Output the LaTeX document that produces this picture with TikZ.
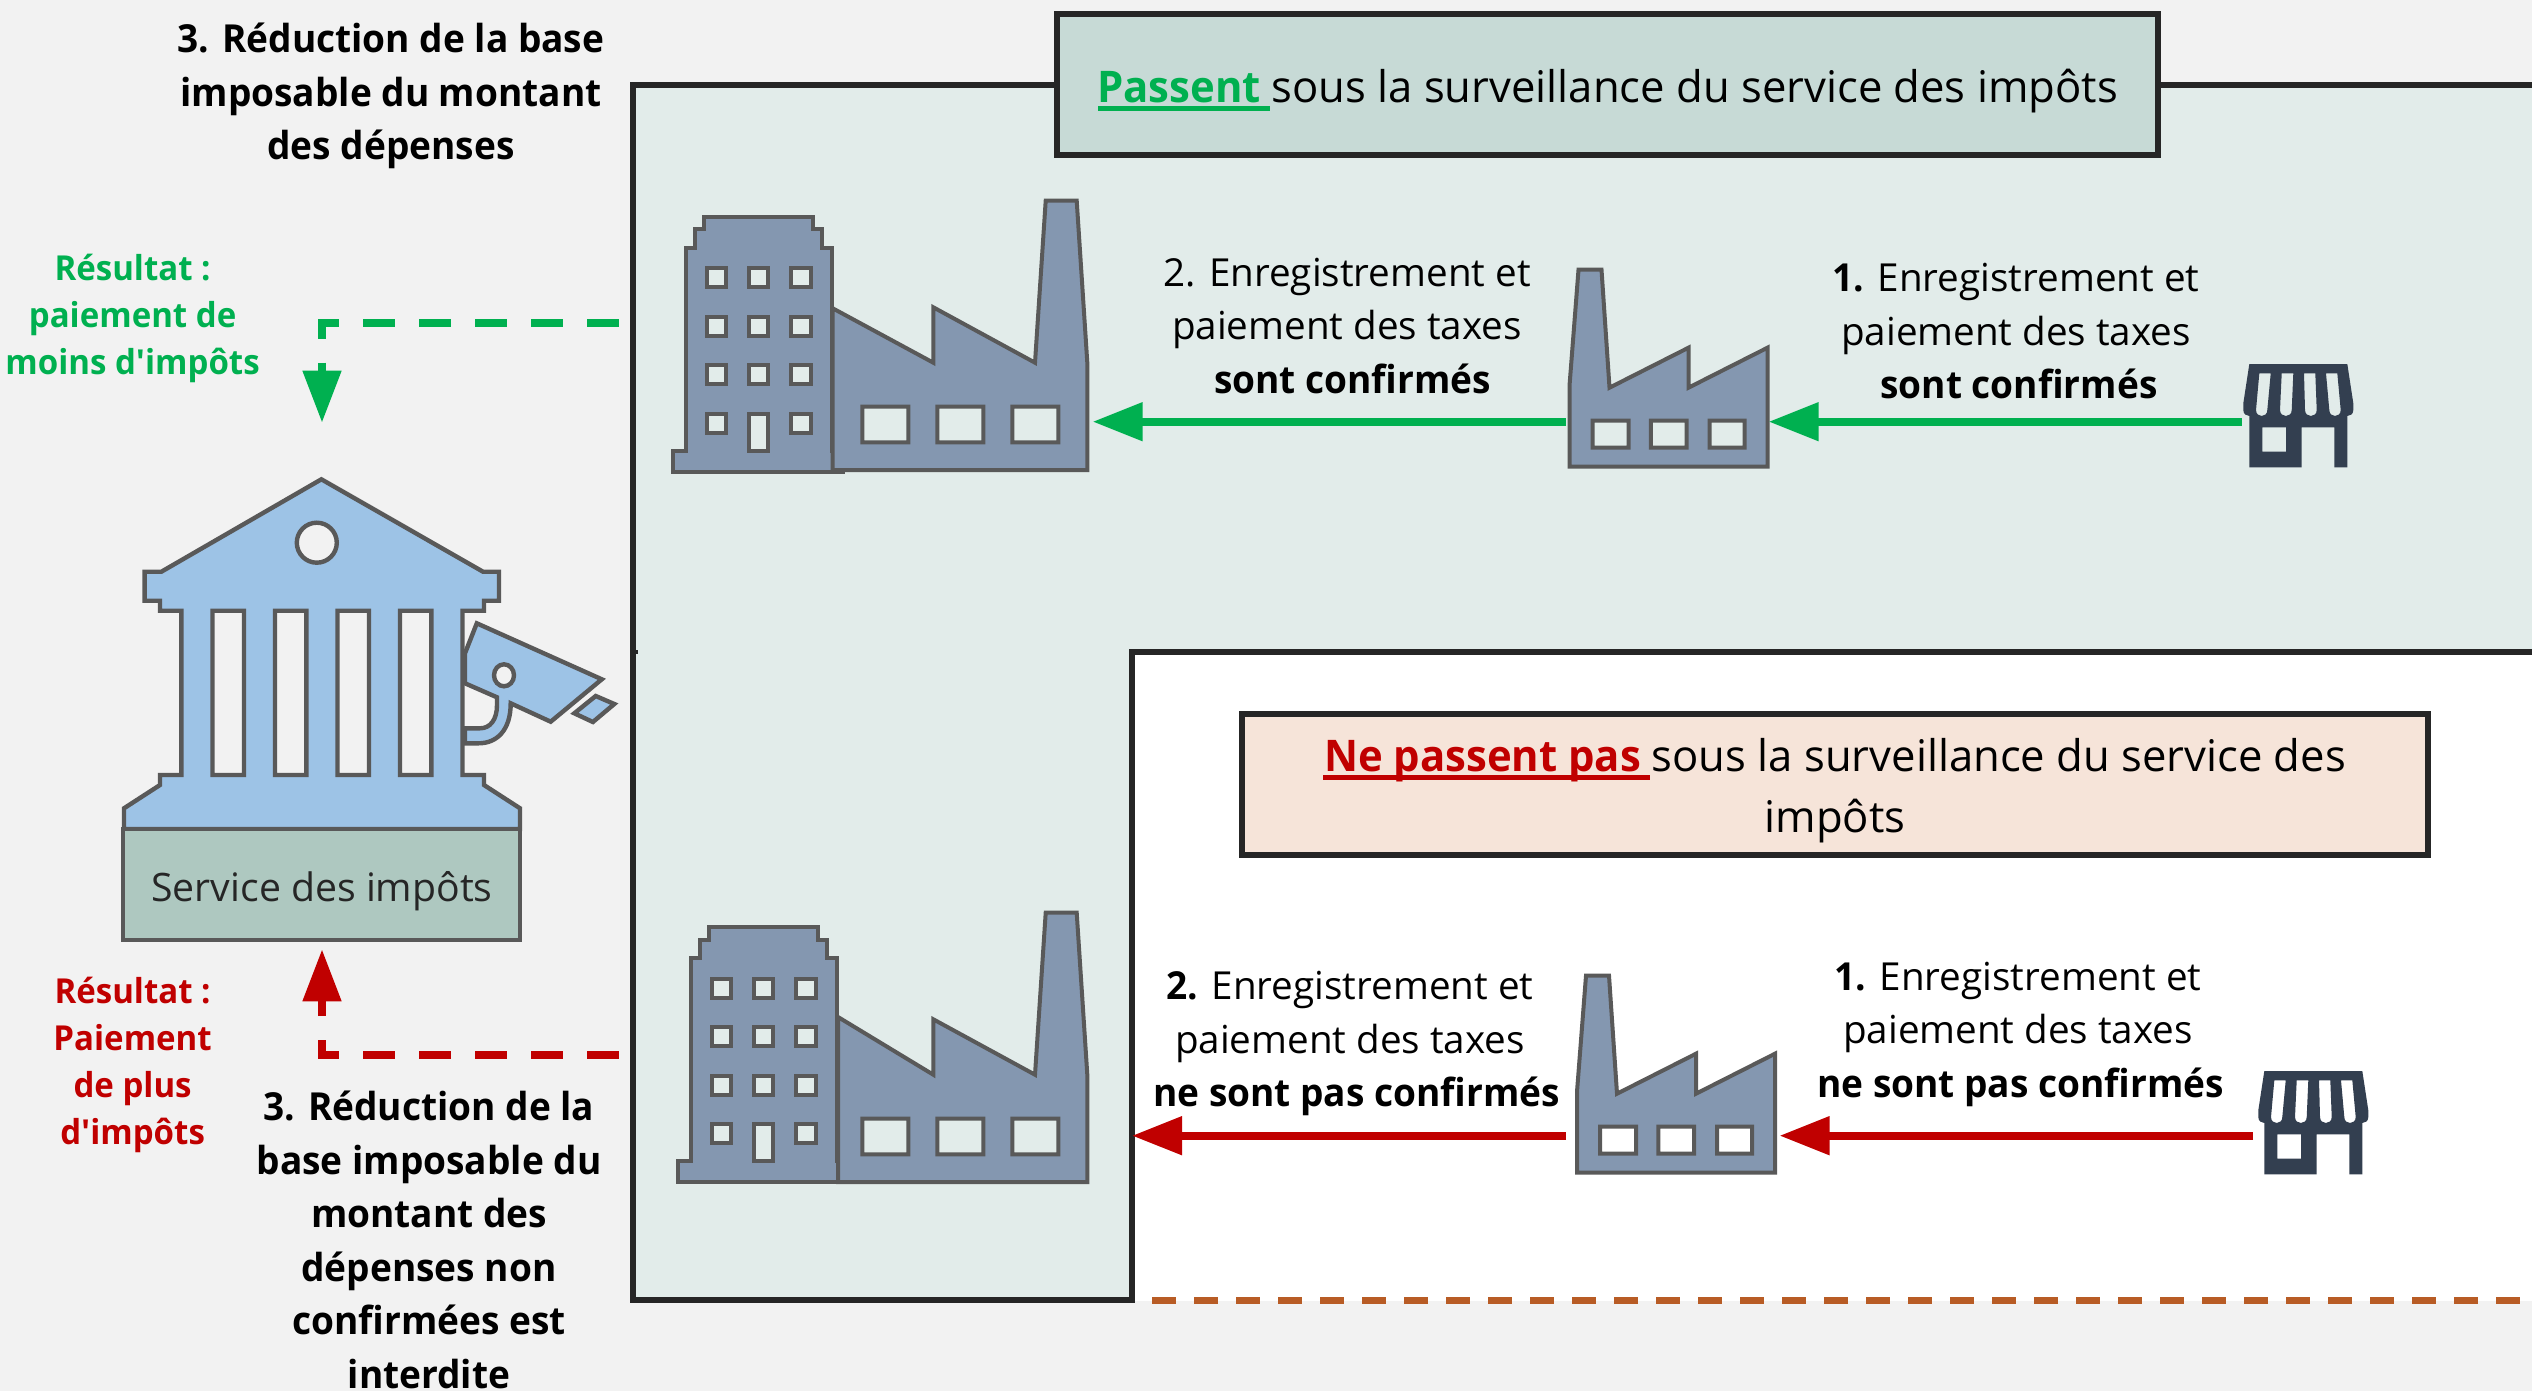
\documentclass[tikz,border=0pt]{standalone}
\usepackage{fontspec}
\setmainfont{Open Sans}[BoldFeatures={FakeStretch=0.96}]
\usetikzlibrary{arrows.meta}
\definecolor{bgc}{HTML}{F2F2F2}
\definecolor{panelc}{HTML}{E2ECEA}
\definecolor{framec}{HTML}{262626}
\definecolor{iconc}{HTML}{8497B0}
\definecolor{iconline}{HTML}{595959}
\definecolor{shopc}{HTML}{333F50}
\definecolor{bankc}{HTML}{9DC3E6}
\definecolor{basec}{HTML}{AEC8C0}
\definecolor{okbox}{HTML}{C7DAD6}
\definecolor{nobox}{HTML}{F6E4D9}
\definecolor{vert}{HTML}{00B050}
\definecolor{rouge}{HTML}{C00000}
\definecolor{brun}{HTML}{B85C25}
\newcommand{\straightapos}{{\font\aposfont="Open Sans/B" at 17.2pt\aposfont '}}
\tikzset{
  x=0.5pt,y=-0.5pt,
  frameline/.style={draw=framec,line width=3pt},
  icon/.style={fill=iconc,draw=iconline,line width=2pt,even odd rule,line join=miter},
  bankicon/.style={fill=bankc,draw=iconline,line width=2.2pt,even odd rule},
  shopicon/.style={fill=shopc,even odd rule},
  bodytxt/.style={font=\fontsize{19.3}{26.75}\selectfont,align=center,anchor=base,inner sep=0pt},
  titletxt/.style={font=\fontsize{21.8}{30.5}\selectfont,align=center,anchor=base,inner sep=0pt},
  restxt/.style={font=\fontsize{17.2}{23.5}\selectfont\bfseries,align=center,anchor=base,inner sep=0pt},
  flow/.style={line width=4pt,-{Triangle[length=25pt,width=18.5pt]}},
  backflow/.style={line width=4pt,dash pattern=on 16pt off 12pt,-{Triangle[length=26pt,width=18.5pt]}},
}
\newcommand{\SmallFactory}{%
  \path[icon] (0,116)--(0,35)--(9,-81)--(32,-81)--(40,37)--(119,-3)--(119,37)--(198,-3)--(198,116)--cycle
    (23,70) rectangle (59,97) (81.4,70) rectangle (117,97) (140,70) rectangle (175,97);
}
\newcommand{\BigFactory}{%
  \path[icon] (832.7,308.3)--(933.3,362.7)--(933.3,307.3)--(1035,362.7)--(1045.7,200.7)--(1076.7,200.7)--(1087.3,362.7)--(1087.3,470)--(832.7,470)--cycle
    (862.3,406.7) rectangle (908.3,442.3) (937.3,406.7) rectangle (983.3,442.3) (1012.3,406.7) rectangle (1058.3,442.3);
}
\newcommand{\Tower}{%
  \path[icon] (673.3,471.7)--(673.3,450.7)--(686,450.7)--(686,247.7)--(694.7,247.7)--(694.7,229)--(704,229)--(704,216.7)--(813.3,216.7)--(813.3,229)--(822.3,229)--(822.3,247.7)--(831.7,247.7)--(831.7,450.7)--(843.3,450.7)--(843.3,471.7)--cycle
    (706.7,268.3) rectangle (725.7,287.3) (749,268.3) rectangle (768,287.3) (791.3,268.3) rectangle (810.7,287.3)
    (706.7,316.7) rectangle (725.7,335.7) (749,316.7) rectangle (768,335.7) (791.3,316.7) rectangle (810.7,335.7)
    (706.7,365.3) rectangle (725.7,384) (749,365.3) rectangle (768,384) (791.3,365.3) rectangle (810.7,384)
    (706.7,413.7) rectangle (725.7,432.7) (749,413.7) rectangle (768,450.7) (791.3,413.7) rectangle (810.7,432.7);
}
\newcommand{\Shop}{%
  \path[shopicon] (6,0)--(104,0)--(110,39.3)--(110,46) .. controls (110,50) and (107,52) .. (104,52)
    --(104,103.3)--(91,103.3)--(91,63.3)--(58.4,63.3)--(58.4,103.3)--(6,103.3)--(6,52)
    .. controls (3,52) and (0,50) .. (0,46)--(0,39.3)--cycle
    (16,9.4)--(27.4,9.4)--(24,46) .. controls (24,54) and (12.7,54) .. (12.7,46)--cycle
    (38.4,9.4)--(50,9.4)--(48.4,46) .. controls (48.4,54) and (36.7,54) .. (36.7,46)--cycle
    (60.7,9.4)--(72,9.4)--(73.4,46) .. controls (73.4,54) and (61.7,54) .. (61.7,46)--cycle
    (82.7,9.4)--(94,9.4)--(97.4,46) .. controls (97.4,54) and (86,54) .. (86,46)--cycle
    (19,63.3) rectangle (42.7,87.7);
}
\begin{document}
\begin{tikzpicture}
\useasboundingbox (0,0) rectangle (2532,1391);
\fill[bgc] (0,0) rectangle (2532,1391);
% white zone and panel
\fill[white] (1132,652) rectangle (2532,1301);
\fill[panelc] (2532,85)--(633,85)--(633,1300)--(1132,1300)--(1132,652)--(2532,652)--cycle;
\draw[frameline] (2532,85)--(633,85)--(633,1300)--(1132,1300)--(1132,652)--(2532,652);
\draw[framec,line width=2pt] (633,651.5)--(638,651.5);
\draw[brun,line width=3.25pt,dash pattern=on 12pt off 9pt] (1152,1300.5)--(2532,1300.5);
% title boxes
\node[draw=framec,line width=3pt,fill=okbox,minimum width=550.5pt,minimum height=70.5pt,inner sep=0pt] (boxok) at (1607.5,84.5) {};
\node[draw=framec,line width=3pt,fill=nobox,minimum width=593pt,minimum height=70.75pt,inner sep=0pt] (boxno) at (1835,784.25) {};
\node[titletxt] (titleok) at (1607.5,102.7) {\textcolor{vert}{\bfseries Passent }sous la surveillance du service des impôts};
\fill[vert] (1098,106) rectangle (1270,111);
\node[titletxt] (titleno) at (1835,832.7) {\textcolor{rouge}{\bfseries Ne passent pas }sous la surveillance du service des\\impôts};
\fill[rouge] (1323,775) rectangle (1650,780);
% icons, upper row
\Tower
\BigFactory
\begin{scope}[shift={(1569.5,350.7)}]\SmallFactory\end{scope}
\begin{scope}[shift={(2243.3,364)}]\Shop\end{scope}
% icons, lower row
\begin{scope}[shift={(5,710.7)}]\Tower\end{scope}
\begin{scope}[shift={(0,712)}]\path[icon] (838,305)--(933.3,362.7)--(933.3,307.3)--(1035,362.7)--(1045.7,200.7)--(1076.7,200.7)--(1087.3,362.7)--(1087.3,470)--(848,470)--(838,470)--cycle
    (862.3,406.7) rectangle (908.3,442.3) (937.3,406.7) rectangle (983.3,442.3) (1012.3,406.7) rectangle (1058.3,442.3);\end{scope}
\begin{scope}[shift={(1577,1056.7)}]\SmallFactory\end{scope}
\begin{scope}[shift={(2258.3,1071)}]\Shop\end{scope}
% connector ends
\coordinate (shopAout) at (2241.7,421.7);
\coordinate (factAin) at (1768.7,421.7);
\coordinate (factAout) at (1566,421.7);
\coordinate (bigAin) at (1092.7,421.7);
\coordinate (shopBout) at (2253,1135.7);
\coordinate (factBin) at (1779.5,1135.7);
\coordinate (factBout) at (1566,1135.7);
\coordinate (bigBin) at (1132,1135.7);
\coordinate (okfrom) at (618.7,323.3);
\coordinate (okbend) at (322,323.3);
\coordinate (taxtop) at (322,422.7);
\coordinate (nofrom) at (618.7,1055.3);
\coordinate (nobend) at (322,1055.3);
\coordinate (taxbot) at (322,949.3);
\draw[flow,vert] (shopAout)--(factAin);
\draw[flow,vert] (factAout)--(bigAin);
\draw[flow,rouge] (shopBout)--(factBin);
\draw[flow,rouge] (factBout)--(bigBin);
\draw[backflow,vert] (okfrom)--(okbend)--(taxtop);
\draw[backflow,rouge] (nofrom)--(nobend)--(taxbot);
% bank
\path[bankicon] (465,653.3)--(476.8,623.3)--(601.8,679.3)--(550.7,721.7)--(510.7,703.3)
   .. controls (510.7,730) and (497,743.3) .. (478.6,743.3)--(465,743.3)--(465,728.3)--(480,728.3)
   .. controls (490,728.3) and (497,720) .. (497,705)--(497,697.3)--(465,683.3)--cycle
   (504,675.3) ellipse [x radius=10,y radius=11];
\path[bankicon] (595.7,696)--(614.3,704)--(592.9,722)--(574.3,713.3)--cycle;
\path[bankicon] (321.4,479.3)--(483,571.7)--(499,571.7)--(499,600.7)--(484,600.7)--(484,610.7)--(462.5,610.7)--(462.5,775)--(484,775)--(484,785)--(520,808.3)--(520,829)--(124,829)--(124,808.3)--(160,785)--(160,775)--(181.4,775)--(181.4,610.7)--(160,610.7)--(160,600.7)--(144.6,600.7)--(144.6,571.7)--(161.4,571.7)--cycle
   (316.8,542.7) circle [radius=20]
   (212.5,610.7) rectangle (244,775) (275,610.7) rectangle (306.4,775) (337.5,610.7) rectangle (369,775) (400,610.7) rectangle (431.4,775);
\node[draw=iconline,line width=1.9pt,fill=basec,minimum width=198.2pt,minimum height=55.5pt,inner sep=0pt] (service) at (321.4,884.5) {};
\node[bodytxt,font=\fontsize{19.6}{24}\selectfont,text=framec] (servicetxt) at (322,901) {Service des impôts};
% texts
\node[bodytxt] (tA2) at (1347,393) {2. Enregistrement et\\paiement des taxes\\\hspace*{5.6pt}\textbf{sont confirmés}};
\node[bodytxt] (tA1) at (2016,398.5) {\textbf{1.} Enregistrement et\\paiement des taxes\\\hspace*{3pt}\textbf{sont confirmés}};
\node[bodytxt] (tB2) at (1350,1106.5) {\textbf{2.} Enregistrement et\\paiement des taxes\\\hspace*{6.5pt}\textbf{ne sont pas confirmés}};
\node[bodytxt] (tB1) at (2018,1097) {\textbf{1.} Enregistrement et\\paiement des taxes\\\hspace*{2.5pt}\textbf{ne sont pas confirmés}};
\node[bodytxt,font=\fontsize{19.3}{26.75}\selectfont\bfseries] (t3a) at (391,160) {3. Réduction de la base\\imposable du montant\\des dépenses};
\node[bodytxt,font=\fontsize{19.3}{26.75}\selectfont\bfseries] (t3b) at (429,1388) {3. Réduction de la\\base imposable du\\montant des\\dépenses non\\confirmées est\\interdite};
\node[restxt,text=vert] (resok) at (132.6,374.2) {Résultat :\\paiement de\\moins d\straightapos impôts};
\node[restxt,text=rouge] (resno) at (132.6,1144.8) {Résultat :\\Paiement\\de plus\\d\straightapos impôts};
\end{tikzpicture}
\end{document}
